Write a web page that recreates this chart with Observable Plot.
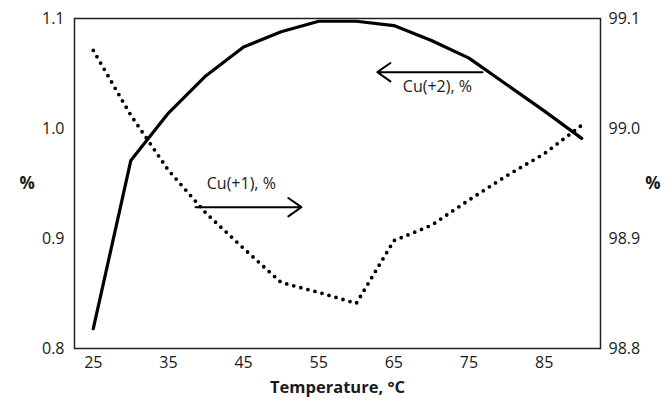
<!DOCTYPE html>
<html>
<head>
<meta charset="utf-8">
<script src="https://cdn.jsdelivr.net/npm/d3@7"></script>
<script src="https://cdn.jsdelivr.net/npm/@observablehq/plot@0.6"></script>
<style>
  html, body { margin: 0; padding: 0; background: #fff; }
  #chart svg { display: block; }
</style>
</head>
<body>
<div id="chart"></div>
<script>
// Data
const temperatures = [25, 30, 35, 40, 45, 50, 55, 60, 65, 70, 75, 80, 85, 90];
// Cu(+2), % — left axis (solid line)
const cu2 = [0.818, 0.971, 1.014, 1.048, 1.074, 1.088, 1.0975, 1.0975, 1.0936, 1.080, 1.064, 1.040, 1.016, 0.991];
// Cu(+1), % — right axis (dotted line)
const cu1 = [99.071, 99.012, 98.962, 98.923, 98.891, 98.860, 98.851, 98.841, 98.898, 98.912, 98.935, 98.957, 98.977, 99.003];

const xTicks = [25, 35, 45, 55, 65, 75, 85];
const leftTicks = [0.8, 0.9, 1.0, 1.1];
const rightOffset = 98; // right axis = left axis + 98

// Annotations (data units, left axis)
const annotations = [
  {label: "Cu(+1), %", x: 44.7, y: 0.9497, ax1: 38.6, ay1: 0.9285, ax2: 52.7, ay2: 0.9285},
  {label: "Cu(+2), %", x: 70.8, y: 1.0382, ax1: 76.8, ay1: 1.0512, ax2: 62.8, ay2: 1.0512}
];

const solid = temperatures.map((t, i) => ({t, v: cu2[i]}));
const dotted = temperatures.map((t, i) => ({t, v: cu1[i] - rightOffset}));

const font = "'Open Sans', sans-serif";
const ink = "#1a1a1a";

const chart = Plot.plot({
  width: 670,
  height: 402,
  marginLeft: 74,
  marginRight: 70,
  marginTop: 18,
  marginBottom: 54,
  style: {fontFamily: font, fontSize: "16px", color: ink, background: "#fff"},
  x: {domain: [22.5, 92.5]},
  y: {domain: [0.8, 1.1]},
  marks: [
    Plot.axisX({ticks: xTicks, tickSize: 0, tickPadding: 8, tickFormat: d => String(d), label: null, fontSize: 16}),
    Plot.axisY({anchor: "left", ticks: leftTicks, tickSize: 0, tickPadding: 10, tickFormat: d => d.toFixed(1), label: null, fontSize: 16}),
    Plot.axisY({anchor: "right", ticks: leftTicks, tickSize: 0, tickPadding: 8, tickFormat: d => (d + rightOffset).toFixed(1), label: null, fontSize: 16}),
    Plot.frame({stroke: "#222", strokeWidth: 1.5}),
    Plot.line(dotted, {x: "t", y: "v", stroke: "#000", strokeWidth: 3.8, strokeDasharray: "0 7.3", strokeLinecap: "round"}),
    Plot.line(solid, {x: "t", y: "v", stroke: "#000", strokeWidth: 3.2, strokeLinejoin: "round"}),
    Plot.arrow(annotations, {x1: "ax1", y1: "ay1", x2: "ax2", y2: "ay2", stroke: "#000", strokeWidth: 2, headLength: 12, headAngle: 70}),
    Plot.text(annotations, {x: "x", y: "y", text: "label", fontSize: 16, fill: ink}),
    Plot.text(["%"], {frameAnchor: "left", dx: -55, fontSize: 17, fontWeight: "bold", fill: ink}),
    Plot.text(["%"], {frameAnchor: "right", dx: 60, fontSize: 17, fontWeight: "bold", fill: ink}),
    Plot.text(["Temperature, °C"], {frameAnchor: "bottom", dy: 44, fontSize: 16.5, fontWeight: "bold", fill: ink})
  ]
});

document.getElementById("chart").appendChild(chart);
</script>
</body>
</html>
